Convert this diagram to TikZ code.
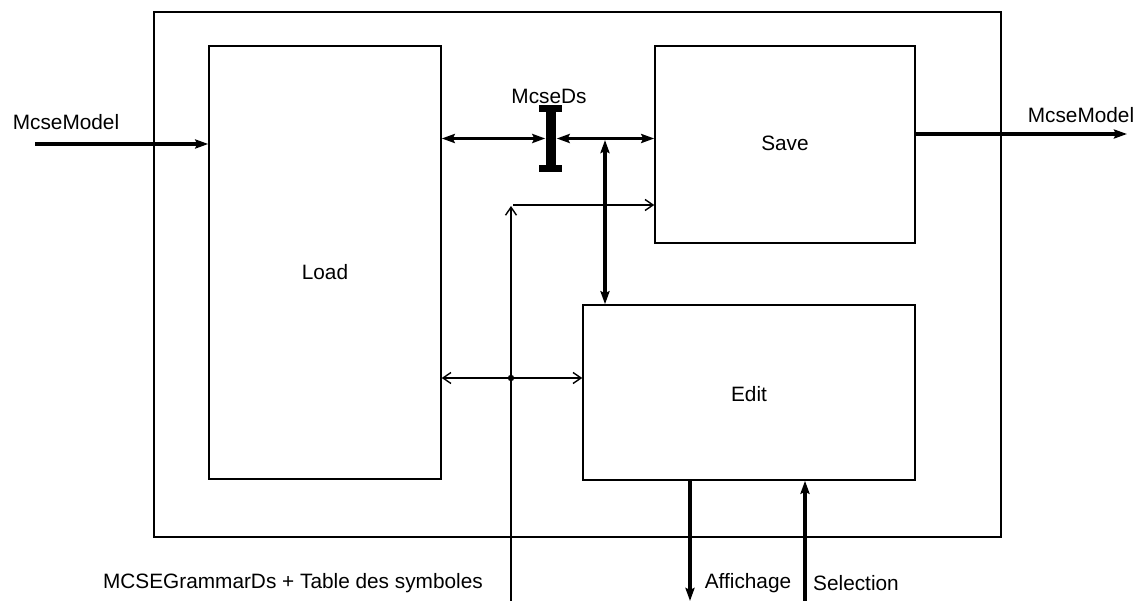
\documentclass[tikz,border=0pt]{standalone}
\usepackage{fontspec}
\setmainfont{Liberation Sans}
\usetikzlibrary{arrows.meta}
\begin{document}
\begin{tikzpicture}[x=1pt,y=-1pt,
  box/.style={draw,line width=1.5pt,rectangle,inner sep=0pt},
  lbl/.style={font=\fontsize{20.8}{24}\selectfont,inner sep=0pt},
  thickarr/.style={line width=3.2pt,-{Stealth[length=13pt,width=9pt,inset=2pt]}},
  thickdbl/.style={line width=3.2pt,{Stealth[length=13pt,width=9pt,inset=2pt]}-{Stealth[length=13pt,width=9pt,inset=2pt]}},
  thinarr/.style={line width=1.4pt,-{Straight Barb[length=8pt,width=11pt]}},
  thindbl/.style={line width=1.4pt,{Straight Barb[length=8pt,width=11pt]}-{Straight Barb[length=8pt,width=11pt]}}]
\useasboundingbox (0,0) rectangle (1146,601);
% boxes
\node[box,minimum width=847pt,minimum height=525pt] (outer) at (577.5,274.5) {};
\node[box,minimum width=232pt,minimum height=433pt] (load) at (325,262.5) {};
\node[box,minimum width=260pt,minimum height=197pt] (save) at (785,144.5) {};
\node[box,minimum width=332pt,minimum height=175pt] (edit) at (749,392.5) {};
\node[lbl] (loadt) at (325,272) {Load};
\node[lbl] (savet) at (785,143) {Save};
\node[lbl] (editt) at (749,394) {Edit};
% labels
\node[lbl] (mmin) at (66,122) {McseModel};
\node[lbl] (mmout) at (1081,115) {McseModel};
\node[lbl] (mds) at (549,96) {McseDs};
\node[lbl,anchor=east] (gram) at (483,583) {MCSEGrammarDs + Table des symboles};
\node[lbl] (afft) at (748,583) {Affichage};
\node[lbl] (selt) at (856,583) {Selection};
% coordinates
\coordinate (inL) at (35,144);
\coordinate (outR) at (1127,134);
\node[inner sep=0pt,minimum width=9pt,minimum height=52pt] (ibeam) at (551,138.5) {};
\coordinate (v1) at (605,140);
\coordinate (gIn) at (511,601);
\coordinate (gTop) at (511,206);
\coordinate (hs) at (513,205);
\coordinate (dot) at (511,378);
\coordinate (aff) at (690,601);
\coordinate (sel) at (805,601);
% I-beam
\fill (ibeam.north west) rectangle (ibeam.south east);
\fill ([xshift=-7pt]ibeam.north west) rectangle ([xshift=6pt,yshift=7pt]ibeam.north east);
\fill ([xshift=-7pt]ibeam.south west) rectangle ([xshift=6pt,yshift=-7pt]ibeam.south east);
% connectors
\draw[thickarr] (inL) -- (inL -| load.west);
\draw[thickarr] (save.east |- outR) -- (outR);
\draw[thickdbl] (load.east |- ibeam) -- ([xshift=-1pt]ibeam.west);
\draw[thickdbl] ([xshift=1pt]ibeam.east) -- (save.west |- ibeam);
\draw[thickdbl] (v1) -- (edit.north -| v1);
\draw[thinarr] (gIn) -- (gTop);
\draw[thinarr] (hs) -- (save.west |- hs);
\draw[thindbl] (load.east |- dot) -- (edit.west |- dot);
\fill (dot) circle (3.2pt);
\draw[thickarr] (edit.south -| aff) -- (aff);
\draw[thickarr] (sel) -- (edit.south -| sel);
\end{tikzpicture}
\end{document}
